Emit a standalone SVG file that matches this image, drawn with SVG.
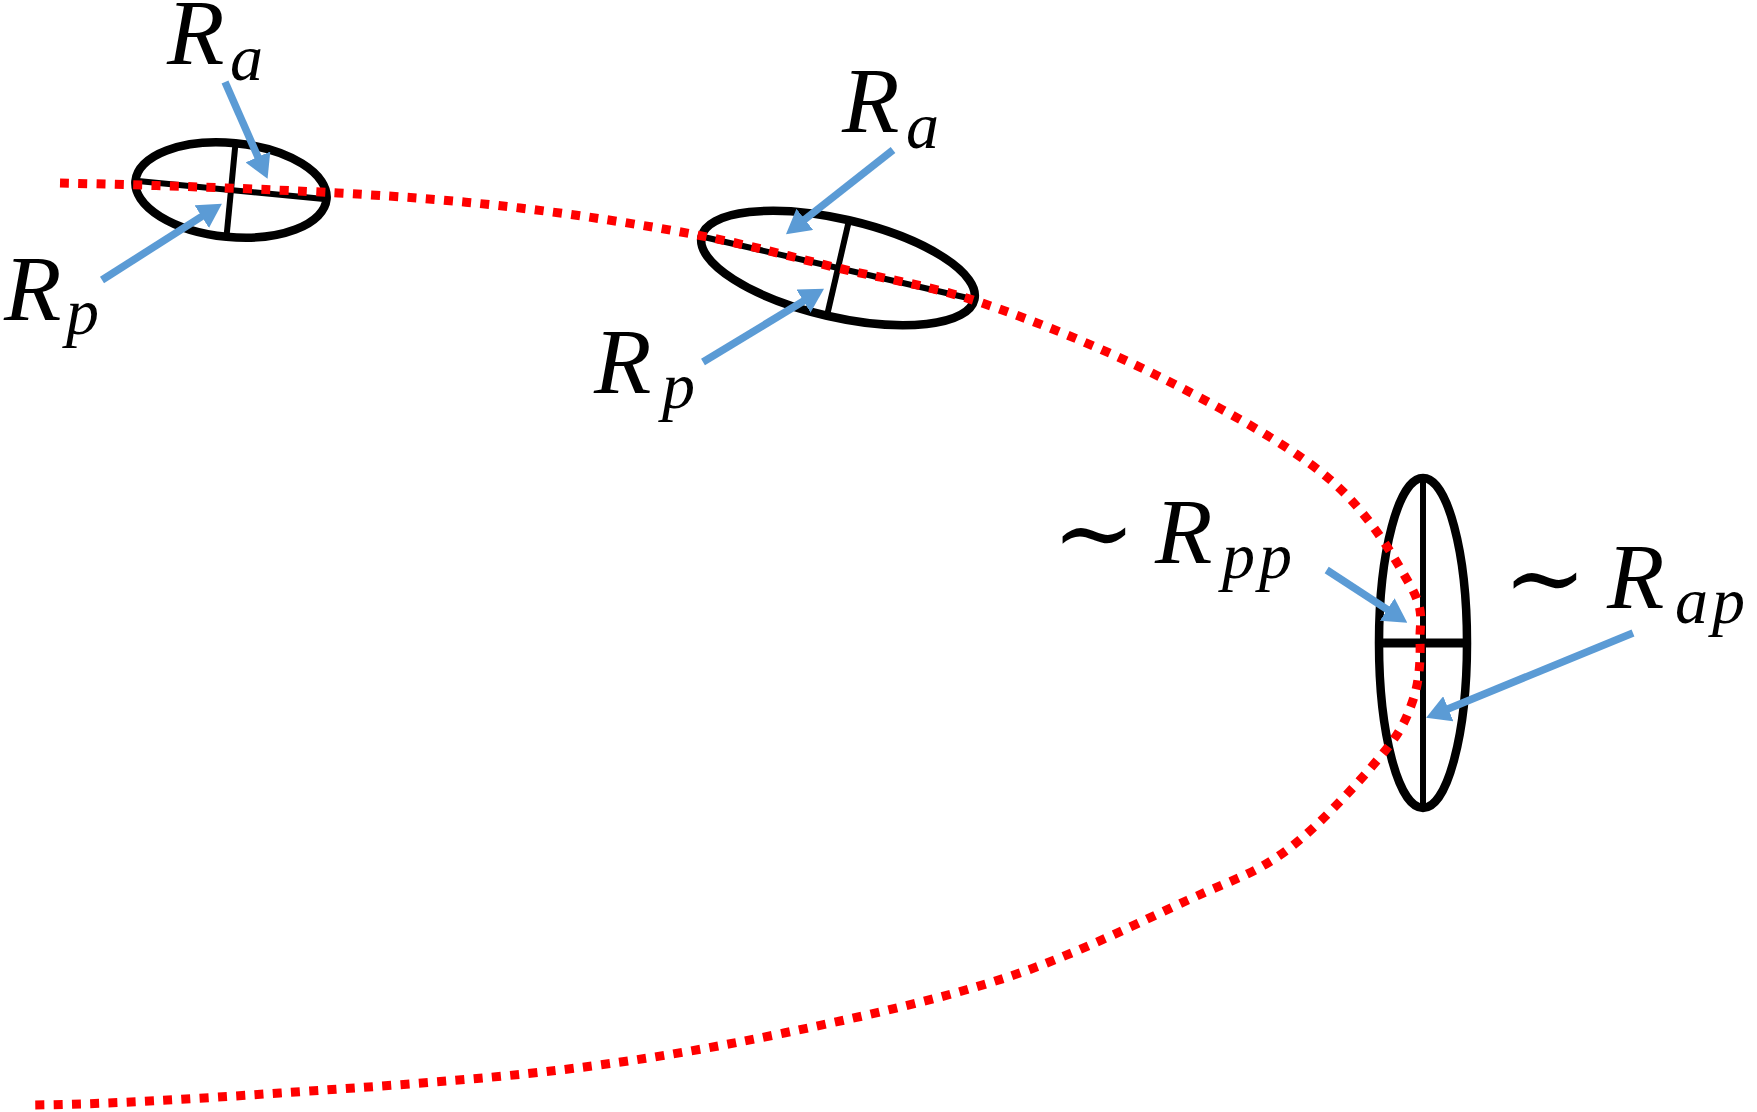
<svg xmlns="http://www.w3.org/2000/svg" width="1757" height="1112" viewBox="0 0 1757 1112">
<defs>
<style>
.ell{fill:none;stroke:#000;stroke-width:8.5}
.ax{stroke:#000;stroke-width:6}
.orbit{fill:none;stroke:#FF0000;stroke-width:9;stroke-dasharray:9 9.3}
.arr{fill:none;stroke:#5B9BD5;stroke-width:7.5;marker-end:url(#ah)}
</style>
<marker id="ah" viewBox="0 0 10 10" refX="0.5" refY="5" markerWidth="3.2" markerHeight="3.6" orient="auto" markerUnits="strokeWidth" preserveAspectRatio="none">
<path d="M0,0 L10,5 L0,10 z" fill="#5B9BD5"/>
</marker>
</defs>
<rect width="1757" height="1112" fill="#fff"/>

<g id="ellipse1" transform="translate(231 190) rotate(5.5)">
<ellipse class="ell" cx="0" cy="0" rx="96" ry="47"/>
<line class="ax" x1="-96" y1="0" x2="96" y2="0"/>
<line class="ax" x1="0" y1="-47" x2="0" y2="47"/>
</g>
<g id="ellipse2" transform="translate(838 268) rotate(13)">
<ellipse class="ell" cx="0" cy="0" rx="140" ry="49"/>
<line class="ax" x1="-140" y1="0" x2="140" y2="0"/>
<line class="ax" x1="0" y1="-49" x2="0" y2="49"/>
</g>
<g id="ellipse3" transform="translate(1423 643)">
<ellipse class="ell" cx="0" cy="0" rx="44" ry="165"/>
<line class="ax" x1="0" y1="-165" x2="0" y2="165"/>
<line class="ax" x1="-44" y1="0" x2="44" y2="0" style="stroke-width:9"/>
</g>

<g id="orbit">
<path class="orbit" d="M60,183 C152.7,185 261.3,188.8 338,193 C414.7,197.2 460.2,201 520,208 C579.8,215 644,225 697,235 C750,245 790.5,256.7 838,268 C885.5,279.3 928.3,284.8 982,303 C1035.7,321.2 1102.5,348 1160,377 C1217.5,406 1285.3,442.3 1327,477 C1368.7,511.7 1394.5,557.8 1410,585 C1425.5,612.2 1419.5,620.8 1420,640 C1420.5,659.2 1419.7,680.5 1413,700 C1406.3,719.5 1401,732 1380,757 C1359,782 1319,826.2 1287,850 C1255,873.8 1234.5,878.8 1188,900 C1141.5,921.2 1075.3,954.8 1008,977 C940.7,999.2 858.7,1017.5 784,1033 C709.3,1048.5 644,1060 560,1070 C476,1080 367.7,1087.2 280,1093 C192.3,1098.8 116,1104 34,1105"/>
</g>

<g id="connectors">
<path class="arr" d="M225,82 L258.4,158"/>
<path class="arr" d="M102,280 L202.7,215.9"/>
<path class="arr" d="M893,150 L803.9,220.1"/>
<path class="arr" d="M703,362 L804.5,300.5"/>
<path class="arr" d="M1326.7,570 L1388.2,610.2"/>
<path class="arr" d="M1633,633 L1447.2,709.2"/>
</g>

<g id="label-Ra1"><text font-family="Liberation Serif" font-style="italic" font-size="94" fill="#000" x="167" y="64">R<tspan font-size="66" x="230" dy="16">a</tspan></text></g>
<g id="label-Rp1"><text font-family="Liberation Serif" font-style="italic" font-size="94" fill="#000" x="4" y="320">R<tspan font-size="66" x="66" dy="14">p</tspan></text></g>
<g id="label-Ra2"><text font-family="Liberation Serif" font-style="italic" font-size="94" fill="#000" x="842" y="132">R<tspan font-size="66" x="906" dy="16">a</tspan></text></g>
<g id="label-Rp2"><text font-family="Liberation Serif" font-style="italic" font-size="94" fill="#000" x="594" y="393">R<tspan font-size="66" x="662" dy="15">p</tspan></text></g>
<g id="label-Rpp"><text font-family="Liberation Serif" font-style="italic" font-size="94" fill="#000" x="1052" y="563"><tspan font-family="DejaVu Serif" font-style="normal" font-size="100" dy="4">∼</tspan><tspan x="1155" dy="-4">R</tspan><tspan font-size="66" x="1222" dy="15" letter-spacing="4">pp</tspan></text></g>
<g id="label-Rap"><text font-family="Liberation Serif" font-style="italic" font-size="94" fill="#000" x="1503" y="608"><tspan font-family="DejaVu Serif" font-style="normal" font-size="100" dy="4">∼</tspan><tspan x="1607" dy="-4">R</tspan><tspan font-size="66" x="1675" dy="15" letter-spacing="4">ap</tspan></text></g>
</svg>
